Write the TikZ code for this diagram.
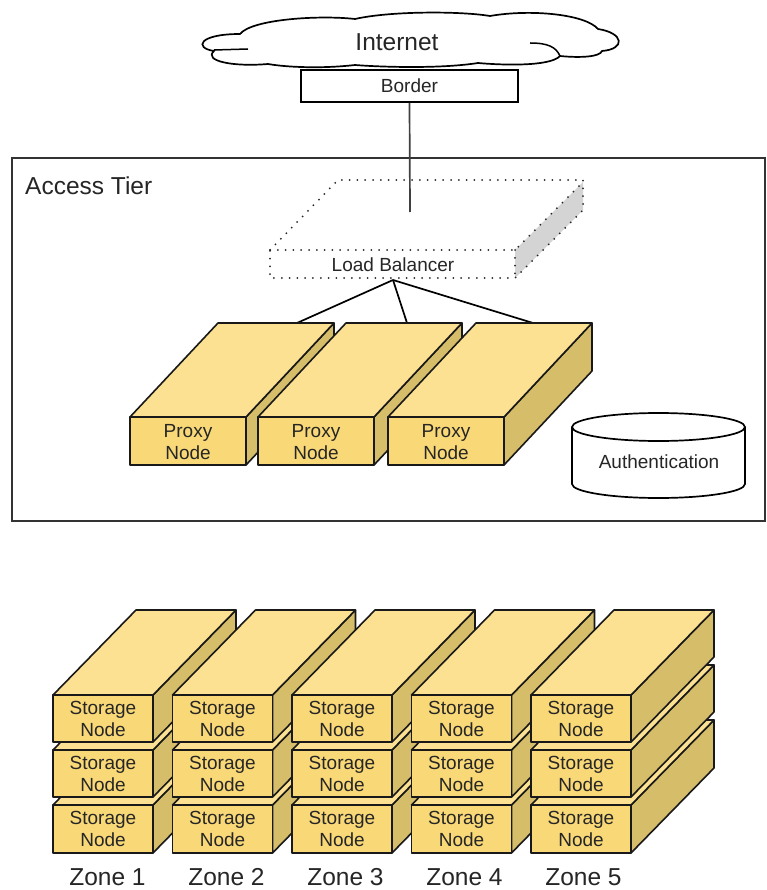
\documentclass[tikz,border=0pt]{standalone}
\usepackage{fontspec}
\setmainfont{Liberation Sans}
\definecolor{frontc}{HTML}{F9D877}
\definecolor{topc}{HTML}{FCE192}
\definecolor{sidec}{HTML}{D5BD6A}
\definecolor{txtc}{HTML}{262626}
\definecolor{lbgray}{HTML}{D4D4D4}
\newcommand{\fbig}{\fontsize{24.5}{28}\selectfont}
\newcommand{\fmid}{\fontsize{19}{21.5}\selectfont}
% #1 x, #2 y (front top), #3 w, #4 h, #5 dx, #6 dz (up)
\newcommand{\cubdraw}[6]{%
  \draw[edge, fill=sidec] (#1+#3,#2) -- ++(#5,-#6) -- ++(0,#4) -- ++(-#5,#6) -- cycle;
  \draw[edge, fill=topc] (#1,#2) -- ++(#5,-#6) -- ++(#3,0) -- ++(-#5,#6) -- cycle;
  \draw[edge, fill=frontc] (#1,#2) rectangle ++(#3,#4);
}
\begin{document}
\begin{tikzpicture}[x=1pt,y=-1pt,
  edge/.style={draw=black!90, line width=1.6pt, line join=round},
  thinline/.style={draw=black, line width=1.7pt},
  lbl/.style={inner sep=0pt, text=txtc, font=\fmid, align=center},
  biglbl/.style={inner sep=0pt, text=txtc, font=\fbig},
  dots/.style={draw=black!85, line width=2pt, line cap=round, dash pattern=on 0pt off 7.8pt}]
\useasboundingbox (0,0) rectangle (766,890);
\fill[white] (0,0) rectangle (766,890);

% Access tier frame
\draw[draw=black!80, line width=1.8pt] (12,158) rectangle (765,521);
\node[biglbl, anchor=west] (tier) at (25,186) {Access Tier};

% Cloud
\draw[line width=1.7pt, fill=white] (240,34)
 .. controls (252,19) and (320,15) .. (355,19)
 .. controls (390,11) and (460,11) .. (490,16)
 .. controls (530,9) and (585,14) .. (598,29)
 .. controls (624,33) and (626,49) .. (602,51)
 .. controls (600,57) and (580,58) .. (560,56)
 .. controls (550,67) and (500,65) .. (478,63)
 .. controls (440,69) and (380,67) .. (355,65)
 .. controls (320,69) and (285,67) .. (268,64)
 .. controls (233,67) and (203,61) .. (214,51)
 .. controls (194,48) and (198,34) .. (240,34) -- cycle;
\draw[line width=1.5pt] (214,50) -- (248,49);
\draw[line width=1.5pt] (530,43) .. controls (548,43) and (556,47) .. (560,56);
\node[biglbl] (internet) at (397,42) {Internet};

% Border
\node[draw=black, line width=1.8pt, minimum width=217pt, minimum height=32pt, inner sep=0pt,
      text=txtc, font=\fmid] (border) at (409.5,86) {Border};

% Load balancer
\fill[lbgray] (515,250) -- (583,182) -- (583,210) -- (515,278) -- cycle;
\draw[dots] (270,250) -- (338,180) -- (583,180) -- (583,210) -- (515,278) -- (270,278) -- cycle;
\draw[dots] (270,250) -- (515,250) -- (583,182);
\draw[dots] (515,250) -- (515,278);
\node[lbl] (lb) at (393,265) {Load Balancer};
\coordinate (lbtop) at (410,212);
\coordinate (lbapex) at (393,280);
\draw[thinline, draw=black!75] (border.south) -- (lbtop);

% Connectors to proxies
\coordinate (p1t) at (297,323);
\coordinate (p2t) at (407,323);
\coordinate (p3t) at (533,323);
\draw[thinline] (lbapex) -- (p1t);
\draw[thinline] (lbapex) -- (p2t);
\draw[thinline] (lbapex) -- (p3t);

% Proxy nodes
\cubdraw{130}{417}{116}{48}{88}{94}
\cubdraw{258}{417}{116}{48}{88}{94}
\cubdraw{388}{417}{116}{48}{88}{94}
\node[lbl] (p1) at (188,442) {Proxy\\Node};
\node[lbl] (p2) at (316,442) {Proxy\\Node};
\node[lbl] (p3) at (446,442) {Proxy\\Node};

% Authentication
\filldraw[fill=white, line width=1.7pt] (658.5,484) ellipse [x radius=86.5, y radius=14];
\fill[white] (572,427) rectangle (745,484);
\draw[line width=1.7pt] (572,427) -- (572,484);
\draw[line width=1.7pt] (745,427) -- (745,484);
\filldraw[fill=white, line width=1.7pt] (658.5,427) ellipse [x radius=86.5, y radius=14];
\node[lbl] (auth) at (659,462) {Authentication};

% Storage nodes
\foreach \c in {0,...,4}{
  \pgfmathsetmacro{\xx}{53+119.5*\c}
  \cubdraw{\xx}{805}{100}{48}{83}{85}
  \cubdraw{\xx}{750}{100}{47}{83}{85}
  \cubdraw{\xx}{695}{100}{47}{83}{85}
}
\foreach \c in {0,...,4}{
  \pgfmathsetmacro{\xc}{103+119.5*\c}
  \node[lbl] (s\c a) at (\xc,719) {Storage\\Node};
  \node[lbl] (s\c b) at (\xc,774) {Storage\\Node};
  \node[lbl] (s\c c) at (\xc,829) {Storage\\Node};
  \pgfmathsetmacro{\xz}{107.5+119*\c}
  \pgfmathtruncatemacro{\zn}{\c+1}
  \node[biglbl] (z\c) at (\xz,877) {Zone \zn};
}
\end{tikzpicture}
\end{document}
